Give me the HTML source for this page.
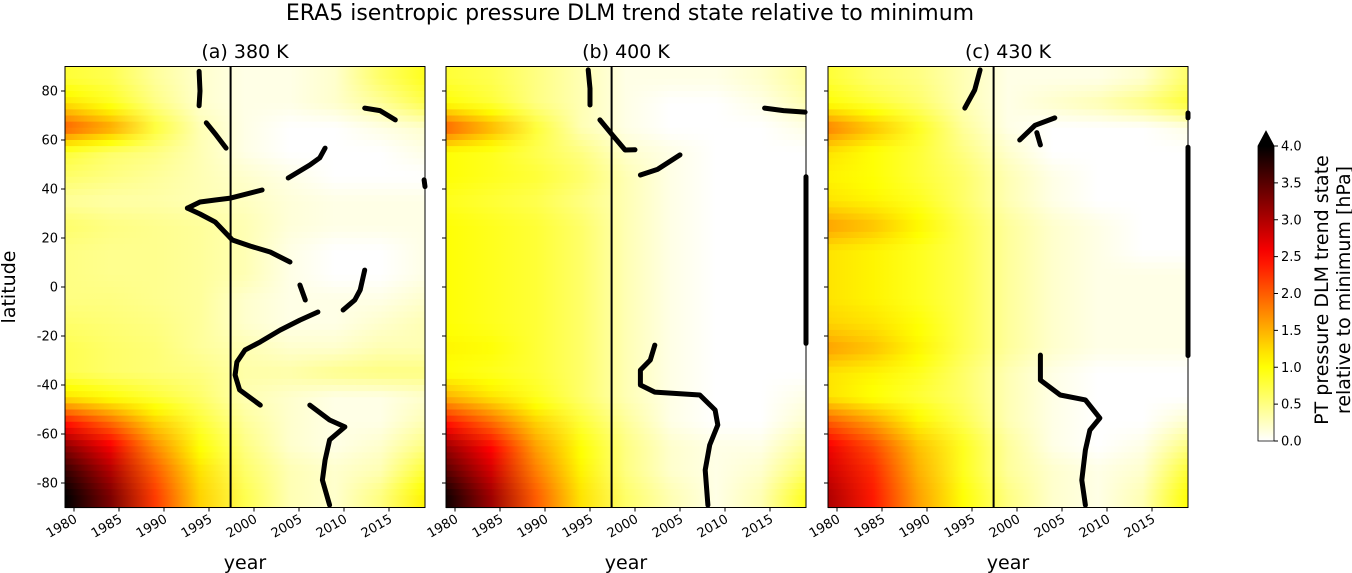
<!DOCTYPE html>
<html><head><meta charset="utf-8">
<style>
body{margin:0;background:#fff;font-family:"Liberation Sans","DejaVu Sans",sans-serif;}
svg{display:block}
text{font-family:"DejaVu Sans","Liberation Sans",sans-serif;fill:#000}
</style></head>
<body>
<svg id="fig" width="1352" height="573">
<text x="630" y="20" font-size="22" text-anchor="middle">ERA5 isentropic pressure DLM trend state relative to minimum</text>
<defs id="defs"></defs>
<g id="panels"></g>
<g id="cbar"></g>
<text transform="translate(15,287) rotate(-90)" font-size="19" text-anchor="middle">latitude</text>
</svg>
<script>
const yearNodes=[1979,1984,1989,1994,1999,2004,2009,2014,2019];
const latNodes=[85,75,65,55,45,35,25,15,5,-5,-15,-25,-35,-45,-55,-65,-75,-85];
const valsA=[
[0.8,0.7,0.4,0.2,0.1,0.1,0.2,0.6,0.9],[1.2,0.9,0.5,0.2,0.1,0.1,0.2,0.4,0.7],[2.0,1.6,0.8,0.3,0.1,0,0,0.1,0.2],
[0.8,0.6,0.5,0.3,0.1,0,0,0,0.1],[0.6,0.5,0.4,0.3,0.2,0.1,0,0,0],[0.4,0.35,0.35,0.3,0.25,0.15,0.1,0.1,0.1],
[0.6,0.5,0.45,0.4,0.3,0.15,0.1,0.1,0.1],[0.5,0.45,0.45,0.4,0.3,0.1,0,0,0.1],[0.5,0.45,0.45,0.4,0.3,0.1,0,0,0.1],
[0.5,0.5,0.45,0.4,0.2,0.1,0.1,0.1,0.2],[0.6,0.55,0.5,0.4,0.2,0.1,0.1,0.2,0.3],[0.7,0.6,0.55,0.4,0.3,0.2,0.2,0.3,0.3],
[0.7,0.6,0.55,0.5,0.35,0.35,0.45,0.5,0.5],[1.2,1.0,0.8,0.6,0.3,0.2,0.1,0.1,0.2],[2.4,1.9,1.3,0.8,0.4,0.2,0.1,0.1,0.3],
[3.2,2.6,1.7,1.0,0.5,0.2,0.1,0.2,0.5],[3.7,3.0,2.0,1.2,0.6,0.3,0.2,0.3,0.8],[4.0,3.3,2.2,1.3,0.7,0.3,0.2,0.5,1.1]];
const valsB=[
[0.8,0.7,0.5,0.3,0.1,0.1,0.1,0.2,0.4],[1.0,0.8,0.5,0.3,0.1,0,0,0.1,0.3],[2.0,1.5,0.8,0.3,0.1,0,0,0,0.1],
[1.0,0.9,0.7,0.5,0.2,0.1,0,0,0],[1.0,0.9,0.8,0.6,0.3,0.1,0,0,0],[0.9,0.8,0.7,0.5,0.3,0.1,0,0,0],
[1.0,0.9,0.8,0.6,0.3,0.1,0,0,0],[1.0,0.9,0.8,0.6,0.3,0.1,0,0,0],[1.0,0.9,0.8,0.6,0.3,0.1,0,0,0],
[1.0,0.9,0.8,0.6,0.3,0.1,0,0,0],[1.0,0.9,0.8,0.6,0.3,0.1,0,0,0],[1.1,1.0,0.8,0.6,0.3,0.1,0,0,0],
[1.0,0.9,0.8,0.6,0.3,0.1,0,0,0],[1.5,1.2,0.9,0.6,0.3,0.1,0,0,0.1],[2.4,1.9,1.3,0.8,0.4,0.1,0,0,0.2],
[3.1,2.5,1.6,1.0,0.5,0.2,0.1,0.1,0.4],[3.5,2.8,1.8,1.1,0.5,0.2,0.1,0.2,0.6],[3.9,3.1,2.0,1.2,0.6,0.3,0.1,0.3,0.9]];
const valsC=[
[0.8,0.6,0.5,0.3,0.1,0.1,0.1,0.2,0.6],[1.0,0.8,0.6,0.3,0.1,0.2,0.3,0.5,0.8],[1.8,1.4,0.9,0.4,0.1,0,0,0,0.1],
[1.2,1.0,0.8,0.5,0.2,0,0,0,0],[1.1,1.0,0.8,0.6,0.3,0.1,0,0,0],[1.2,1.1,0.9,0.6,0.3,0.1,0,0,0],
[1.6,1.4,1.1,0.7,0.4,0.2,0.1,0,0],[1.2,1.1,0.9,0.7,0.4,0.2,0.1,0,0],[1.2,1.1,0.9,0.7,0.4,0.2,0.1,0.1,0.1],
[1.2,1.1,0.9,0.7,0.4,0.2,0.1,0.1,0.1],[1.3,1.2,1.0,0.7,0.4,0.2,0.1,0.1,0.1],[1.6,1.4,1.1,0.7,0.4,0.2,0.1,0.1,0.1],
[1.2,1.1,0.9,0.6,0.3,0.1,0,0,0],[1.2,1.0,0.8,0.6,0.3,0.1,0,0,0],[2.0,1.6,1.1,0.7,0.3,0.1,0,0,0.2],
[2.6,2.1,1.4,0.9,0.4,0.1,0,0.1,0.5],[2.8,2.3,1.5,0.9,0.4,0.2,0.1,0.2,0.8],[3.0,2.4,1.6,1.0,0.5,0.2,0.1,0.3,1.0]];
// scatter tracks (year, latitude)
const tracksA=[
[[1993.9,88],[1994,80],[1993.9,74]],
[[1994.7,67],[1995.8,62],[1996.9,56.7]],
[[1992.6,32.2],[1994,34.7],[1995.7,35.5],[1997.4,36.3],[2000.9,39.6]],
[[2003.8,44.5],[2006.2,49.8],[2007.3,52.7],[2007.9,56.7]],[[2009.9,51]],
[[1992.6,32.2],[1994,29.8],[1995.7,26.5],[1997.6,19.2],[1999.6,16.7],[2001.8,14.3],[2004,10.2]],
[[2005.1,0.8],[2005.7,-5.3]],
[[2007.1,-10.2],[2005.1,-13.5],[2002.9,-17.6],[2000.7,-22.4],[1999,-25.7],[1998.1,-30.6],[1997.9,-35.9],[1998.4,-42],[2000.7,-48.2]],
[[2006.2,-48.2],[2008.4,-54.3],[2010.1,-57.1],[2008.4,-62.4],[2007.9,-70.6],[2007.6,-78.8],[2008.4,-89]],
[[2009.9,-9.4],[2011.2,-5.3],[2011.8,-1.2],[2012.3,6.9]],
[[2012.3,73],[2014,72],[2015.7,68.2]],[[2018.9,43.7],[2019,41]]];
const tracksB=[
[[1994.8,88.6],[1995,81],[1995,74.3]],
[[1996.1,68.2],[1997.5,62],[1998.9,55.9],[2000,56]],
[[2000.6,45.7],[2002.5,48],[2005,53.9]],[[2003.3,68.2]],
[[2002.2,-23.7],[2001.7,-29.8],[2000.6,-33.9],[2000.6,-40],[2002.2,-42.9],[2007.2,-44.1],[2008.9,-50.2],[2009.2,-56.3],[2008.3,-64.5],[2007.8,-74.7],[2008.1,-89]],
[[2014.4,73],[2016.5,72],[2018.9,71.4]],[[2019,45],[2019,-23]]];
const tracksC=[
[[1994.2,73],[1995.3,80.4],[1995.9,88.6]],
[[2000.3,60],[2002,66],[2004.2,69]],[[2002.6,58],[2002.2,63]],
[[2002.6,-27.8],[2002.6,-38],[2004.8,-44.1],[2007.6,-46.1],[2009.2,-53.5],[2008.1,-58.4],[2007.6,-66.5],[2007.2,-78.8],[2007.6,-89]],
[[2001.5,-50]],[[2019,57],[2019,-28]],[[2019,71],[2019,69]]];
const xTicks=[1980,1985,1990,1995,2000,2005,2010,2015];
const yTicks=[80,60,40,20,0,-20,-40,-60,-80];
const cbTicks=[0,0.5,1,1.5,2,2.5,3,3.5,4];
const vline=1997.4;

const NS="http://www.w3.org/2000/svg";
function mk(tag,attrs,parent){const e=document.createElementNS(NS,tag);for(const k in attrs)e.setAttribute(k,attrs[k]);parent.appendChild(e);return e;}
function cmap(v){let n=1-Math.max(0,Math.min(4,v))/4;
 const r=Math.min(1,n/0.365),g=Math.max(0,Math.min(1,(n-0.365)/0.375)),b=Math.max(0,Math.min(1,(n-0.746)/0.254));
 return `rgb(${Math.round(r*255)},${Math.round(g*255)},${Math.round(b*255)})`;}
const Y0=66.5,H=441,W=360,yMin=1979,yMax=2019;
const yScale=lat=>287-lat*2.45;
const panels=[{x0:65,v:valsA,t:tracksA,title:"(a) 380 K",n:"a"},{x0:446,v:valsB,t:tracksB,title:"(b) 400 K",n:"b"},{x0:828,v:valsC,t:tracksC,title:"(c) 430 K",n:"c"}];
const defs=document.getElementById('defs'),root=document.getElementById('panels');
function latVal(vals,lat,j){
 if(lat>=latNodes[0])return vals[0][j];
 if(lat<=latNodes[latNodes.length-1])return vals[vals.length-1][j];
 for(let i=0;i<latNodes.length-1;i++){if(lat<=latNodes[i]&&lat>=latNodes[i+1]){const f=(latNodes[i]-lat)/10;return vals[i][j]*(1-f)+vals[i+1][j]*f;}}
}
panels.forEach((p,pi)=>{
 const xs=yr=>p.x0+(yr-yMin)/(yMax-yMin)*W;
 const g=mk('g',{},root);
 
 
 const hm=mk('g',{},g);
 
 
 for(let lat=90;lat>-90;lat-=2.5){
  const c=lat-1.25,id=`gr${pi}_${Math.round(lat*10)}`;
  const gr=mk('linearGradient',{id:id,x1:0,x2:1,y1:0,y2:0},defs);
  yearNodes.forEach((yr,j)=>{mk('stop',{offset:(yr-yMin)/(yMax-yMin),'stop-color':cmap(latVal(p.v,c,j))},gr);});
  const r=mk('rect',{x:p.x0,y:yScale(lat),width:W,height:2.5*2.45+0.6,fill:`url(#${id})`},hm);
  
  
 }
 const vl=mk('line',{x1:xs(vline),x2:xs(vline),y1:Y0,y2:Y0+H,stroke:'#000','stroke-width':2},g);
 
 
 const sc=mk('g',{},g);
 
 
 p.t.forEach(tr=>{
  const d=tr.map((q,i)=>(i?'L':'M')+xs(q[0]).toFixed(1)+','+yScale(q[1]).toFixed(1)).join(' ');
  const pa=mk('path',{d:d,fill:'none',stroke:'#000','stroke-width':5,'stroke-linecap':'round','stroke-linejoin':'round'},sc);
  
  
 });
 const fr=mk('rect',{x:p.x0,y:Y0,width:W,height:H,fill:'none',stroke:'#000','stroke-width':1},g);
 
 
 const tt=mk('text',{x:p.x0+W/2,y:58,'font-size':19,'text-anchor':'middle'},g);tt.textContent=p.title;
 
 
 yTicks.forEach(v=>{const y=yScale(v);mk('line',{x1:p.x0-4,x2:p.x0,y1:y,y2:y,stroke:'#000'},g);
  if(pi===0){const t=mk('text',{x:p.x0-7,y:y+4.5,'font-size':13,'text-anchor':'end'},g);t.textContent=v;
   
   }});
 xTicks.forEach(v=>{const x=xs(v);mk('line',{x1:x,x2:x,y1:Y0+H,y2:Y0+H+4,stroke:'#000'},g);
  const t=mk('text',{x:0,y:0,'font-size':13,'text-anchor':'end',transform:`translate(${x+4},${Y0+H+14}) rotate(-30)`},g);t.textContent=v;
  
  });
 const xl=mk('text',{x:p.x0+W/2,y:569,'font-size':19,'text-anchor':'middle'},g);xl.textContent='year';
 
 
});
// colorbar
const cb=document.getElementById('cbar');
const cbx=1258,cbw=16,cbTop=146,cbBot=441;
const cby=v=>cbBot-v/4*(cbBot-cbTop);
const cg=mk('linearGradient',{id:'cbg',x1:0,x2:0,y1:1,y2:0},defs);
for(let i=0;i<=20;i++){mk('stop',{offset:i/20,'stop-color':cmap(i/20*4)},cg);}
mk('rect',{x:cbx,y:cbTop,width:cbw,height:cbBot-cbTop,fill:'url(#cbg)'},cb);
mk('polygon',{points:`${cbx},${cbTop} ${cbx+cbw/2},${cbTop-15} ${cbx+cbw},${cbTop}`,fill:'#000'},cb);
mk('polygon',{points:`${cbx},${cbTop} ${cbx+cbw/2},${cbTop-15} ${cbx+cbw},${cbTop} ${cbx+cbw},${cbBot} ${cbx},${cbBot}`,fill:'none',stroke:'#000','stroke-width':0.8},cb);
cbTicks.forEach(v=>{const y=cby(v);mk('line',{x1:cbx+cbw,x2:cbx+cbw+4,y1:y,y2:y,stroke:'#000'},cb);
 const t=mk('text',{x:cbx+cbw+7,y:y+4.5,'font-size':13},cb);t.textContent=v.toFixed(1);
 
 });
const cl=mk('text',{transform:'translate(1328,290) rotate(-90)','font-size':19,'text-anchor':'middle'},cb);


mk('tspan',{x:0,dy:0},cl).textContent='PT pressure DLM trend state';
mk('tspan',{x:0,dy:22},cl).textContent='relative to minimum [hPa]';
</script>
</body></html>
